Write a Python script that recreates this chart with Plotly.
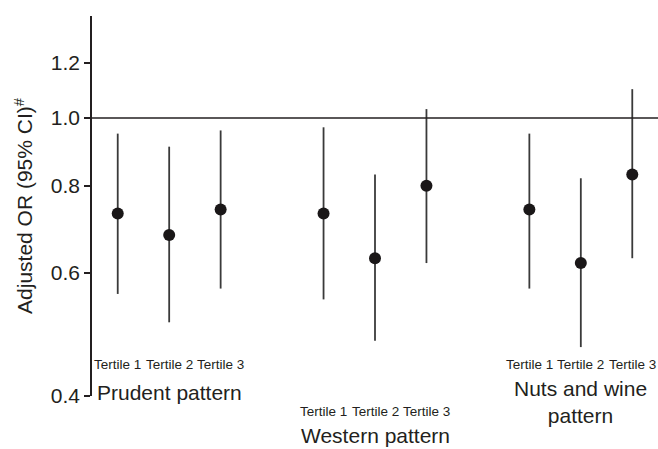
import math
import plotly.graph_objects as go

# ---- data ----
groups = ["Prudent pattern", "Western pattern", "Nuts and wine<br>pattern"]
tertiles = ["Tertile 1", "Tertile 2", "Tertile 3"]

or_prudent = [0.73, 0.68, 0.74]
lo_prudent = [0.56, 0.51, 0.57]
hi_prudent = [0.95, 0.91, 0.96]

or_western = [0.73, 0.63, 0.80]
lo_western = [0.55, 0.48, 0.62]
hi_western = [0.97, 0.83, 1.03]

or_nuts = [0.74, 0.62, 0.83]
lo_nuts = [0.57, 0.47, 0.63]
hi_nuts = [0.95, 0.82, 1.10]

y_ticks = [0.4, 0.6, 0.8, 1.0, 1.2]
y_ticktext = ["0.4", "0.6", "0.8", "1.0", "1.2"]
reference_or = 1.0

# ---- build ----
ors = [or_prudent, or_western, or_nuts]
los = [lo_prudent, lo_western, lo_nuts]
his = [hi_prudent, hi_western, hi_nuts]

FONT = "Liberation Sans, Arial, sans-serif"
TXT = "#231f20"

xs, ys, em, ep = [], [], [], []
for g in range(len(groups)):
    for t in range(len(tertiles)):
        x = g * 4 + t
        xs.append(x)
        ys.append(ors[g][t])
        em.append(ors[g][t] - los[g][t])
        ep.append(his[g][t] - ors[g][t])

fig = go.Figure()
fig.add_trace(go.Scatter(
    x=xs, y=ys, mode="markers",
    marker=dict(size=12, color="#1a1718"),
    error_y=dict(type="data", symmetric=False, array=ep, arrayminus=em,
                 color="#3a3a3a", thickness=1.8, width=0),
    showlegend=False, cliponaxis=False, hoverinfo="skip",
))

fig.add_hline(y=reference_or, line=dict(color="#231f20", width=1.5))

# tertile labels and group labels
tert_y = [0.0816, -0.0395, 0.0816]
group_y = [0.008, -0.105, -0.016]
anns = []
for g in range(len(groups)):
    for t in range(len(tertiles)):
        anns.append(dict(x=g * 4 + t, y=tert_y[g], xref="x", yref="paper",
                         text=tertiles[t], showarrow=False, xanchor="center",
                         yanchor="middle", font=dict(family=FONT, size=13.5, color=TXT)))
    anns.append(dict(x=g * 4 + 1, y=group_y[g], xref="x", yref="paper",
                     text=groups[g], showarrow=False, xanchor="center",
                     yanchor="middle", align="center",
                     font=dict(family=FONT, size=21, color=TXT)))

fig.update_layout(
    width=658, height=449,
    margin=dict(l=92, r=0, t=16, b=53),
    paper_bgcolor="white", plot_bgcolor="white",
    font=dict(family=FONT, size=21, color=TXT),
    annotations=anns,
    xaxis=dict(range=[-0.5, 10.5], visible=False, showgrid=False, zeroline=False),
    yaxis=dict(
        type="log",
        range=[math.log10(0.4), math.log10(1.4)],
        tickvals=y_ticks, ticktext=y_ticktext,
        ticks="outside", ticklen=6, tickwidth=1.5, tickcolor="#231f20",
        showline=True, linecolor="#231f20", linewidth=1.5,
        showgrid=False, zeroline=False,
        tickfont=dict(family=FONT, size=21, color=TXT),
        title=dict(text="Adjusted OR (95% CI)<sup>#</sup>", standoff=12,
                   font=dict(family=FONT, size=21, color=TXT)),
    ),
)

fig.write_html("out.html", config={"displayModeBar": False},
               post_script="document.body.style.margin='0';document.body.style.padding='0';")
